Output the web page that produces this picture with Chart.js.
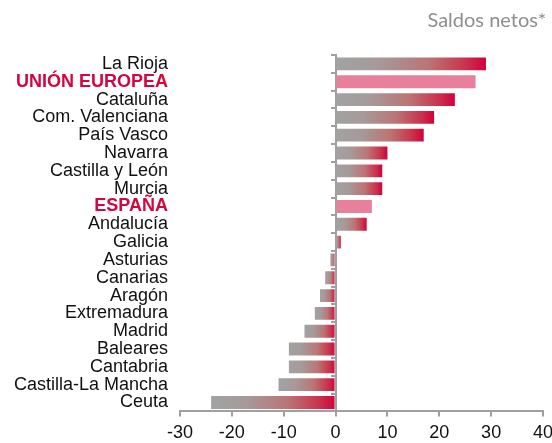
<!DOCTYPE html>
<html>
<head>
<meta charset="utf-8">
<script src="https://cdn.jsdelivr.net/npm/chart.js@4/dist/chart.umd.min.js"></script>
<style>
  html, body { margin: 0; padding: 0; background: #fff; overflow: hidden; }
  #wrap { width: 559px; height: 443px; }
</style>
</head>
<body>
<div id="wrap"><canvas id="saldosChart"></canvas></div>
<script>
// categories, top to bottom
const regions = [
    "La Rioja", "UNIÓN EUROPEA", "Cataluña", "Com. Valenciana", "País Vasco",
    "Navarra", "Castilla y León", "Murcia", "ESPAÑA", "Andalucía",
    "Galicia", "Asturias", "Canarias", "Aragón", "Extremadura",
    "Madrid", "Baleares", "Cantabria", "Castilla-La Mancha", "Ceuta"
];
// net balances
const netBalance = [29, 27, 23, 19, 17, 10, 9, 9, 7, 6, 1, -1, -2, -3, -4, -6, -9, -9, -11, -24];
// aggregates shown highlighted
const highlighted = ["UNIÓN EUROPEA", "ESPAÑA"];
const xTicks = [-30, -20, -10, 0, 10, 20, 30, 40];

const GREY = "#a0a0a0";
const RED_TEXT = "#d3063f";

document.addEventListener("DOMContentLoaded", () => {
    const ctx = document.getElementById("saldosChart").getContext("2d");

    // gray -> crimson gradient over each bar, left to right
    function barFill(c) {
        const chart = c.chart;
        if (!chart.chartArea || !chart.scales.x) return GREY;
        if (highlighted.includes(regions[c.dataIndex])) return "#e8809c";
        const v = netBalance[c.dataIndex];
        const x0 = chart.scales.x.getPixelForValue(Math.min(0, v));
        const x1 = chart.scales.x.getPixelForValue(Math.max(0, v));
        if (x1 - x0 < 1) return "#d0003a";
        const g = chart.ctx.createLinearGradient(x0, 0, x1, 0);
        g.addColorStop(0, "#a2a2a2");
        g.addColorStop(0.28, "#a69a9a");
        g.addColorStop(0.62, "#bb7474");
        g.addColorStop(0.88, "#cb2e4c");
        g.addColorStop(1, "#d2003a");
        return g;
    }

    const labelFont = { family: "Liberation Sans, Arial, sans-serif", size: 18 };

    new Chart(ctx, {
        type: "bar",
        data: {
            labels: regions,
            datasets: [{
                data: netBalance,
                backgroundColor: barFill,
                borderWidth: 0,
                barPercentage: 0.72,
                categoryPercentage: 1
            }]
        },
        options: {
            indexAxis: "y",
            responsive: true,
            maintainAspectRatio: false,
            animation: false,
            layout: { padding: { left: 10, bottom: -7 } },
            plugins: {
                legend: { display: false },
                tooltip: { enabled: false },
                title: {
                    display: true,
                    text: "Saldos netos*\u00a0\u00a0\u2009",
                    align: "end",
                    color: "#8e8e8e",
                    font: { family: "Lato", size: 20, weight: "normal" },
                    padding: { top: 9, bottom: 22 }
                }
            },
            scales: {
                x: {
                    min: -30,
                    max: 40,
                    afterBuildTicks: s => { s.ticks = xTicks.map(v => ({ value: v })); },
                    border: { color: GREY, width: 2 },
                    grid: { drawOnChartArea: false, color: GREY, tickLength: 5, lineWidth: 2 },
                    ticks: {
                        color: "#111",
                        font: labelFont,
                        padding: 6,
                        maxRotation: 0
                    }
                },
                y: {
                    position: "left",
                    grid: { display: false, drawTicks: false, tickLength: 0 },
                    border: { display: false },
                    afterFit: s => { s.width = 170; },
                    ticks: {
                        autoSkip: false,
                        padding: 12,
                        color: c => highlighted.includes(regions[c.index]) ? RED_TEXT : "#111",
                        font: c => highlighted.includes(regions[c.index])
                            ? Object.assign({}, labelFont, { weight: "bold" })
                            : labelFont
                    }
                },
                // zero line with small ticks between categories
                yZero: {
                    axis: "y",
                    type: "category",
                    labels: regions,
                    position: { x: 0 },
                    offset: true,
                    border: { color: GREY, width: 2 },
                    grid: { offset: true, drawOnChartArea: false, color: GREY, tickLength: 4, lineWidth: 2 },
                    ticks: { display: false }
                }
            }
        }
    });
});
</script>
</body>
</html>
